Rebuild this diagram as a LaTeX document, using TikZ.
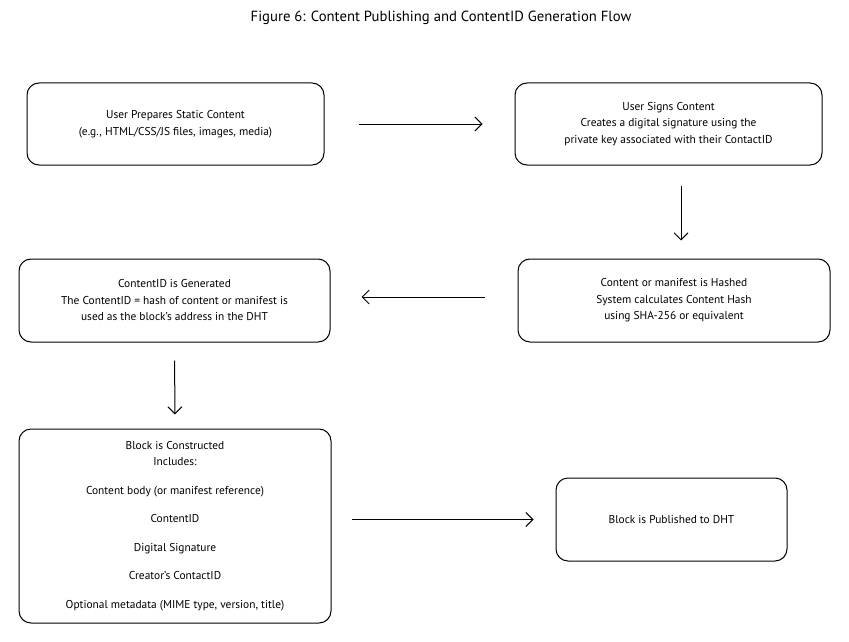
\documentclass[tikz,border=0pt]{standalone}
\usepackage{fontspec}
\setmainfont{PT Sans}
\usetikzlibrary{arrows.meta}

\begin{document}
\begin{tikzpicture}[x=1pt, y=-1pt,
    box/.style={draw, line width=1pt, rounded corners=12pt, align=center,
      font=\fontsize{11.4}{16.5}\selectfont},
    flow/.style={-{Straight Barb[length=7pt,width=14pt]}, line width=1pt}]

  \useasboundingbox (0,0) rectangle (849,642);

  \node[font=\fontsize{14.7}{17}\selectfont] (title) at (441,18) {Figure 6: Content Publishing and ContentID Generation Flow};

  \node[box, minimum width=297pt, minimum height=82pt] (prep) at (175.5,124) {User Prepares Static Content\\(e.g., HTML/CSS/JS files, images, media)};
  \node[box, minimum width=307pt, minimum height=82pt] (sign) at (668.5,124) {User Signs Content\\Creates a digital signature using the\\private key associated with their ContactID};
  \node[box, minimum width=312pt, minimum height=83pt] (hash) at (674,300.5) {Content or manifest is Hashed\\System calculates Content Hash\\using SHA-256 or equivalent};
  \node[box, minimum width=311pt, minimum height=83pt] (gen) at (174.5,300.5) {ContentID is Generated\\The ContentID = hash of content or manifest is\\used as the block’s address in the DHT};
  \node[box, minimum width=312pt, minimum height=194pt] (block) at (175,526) {Block is Constructed\\Includes:\\[12pt]Content body (or manifest reference)\\[12pt]ContentID\\[12pt]Digital Signature\\[12pt]Creator’s ContactID\\[12pt]Optional metadata (MIME type, version, title)};
  \node[box, minimum width=231pt, minimum height=83pt] (publish) at (671.5,519.5) {Block is Published to DHT};

  % Arrow pointing right
  \draw[flow, shorten <=34pt, shorten >=32pt] (prep.east) -- (sign.west);
  % Arrow pointing down
  \draw[flow, shorten <=20pt, shorten >=18pt] ([xshift=12.5pt]sign.south) -- ([xshift=7pt]hash.north);
  % Arrow pointing left
  \draw[flow, shorten <=33pt, shorten >=31pt] ([yshift=3.5pt]hash.west) -- ([yshift=3.5pt]gen.east);
  % Arrow pointing down
  \draw[flow, shorten <=18pt, shorten >=14pt] (gen.south) -- (block.north);
  % Arrow pointing right
  \draw[flow, shorten <=20pt, shorten >=22pt] (block.east |- publish.west) -- (publish.west);

\end{tikzpicture}
\end{document}
